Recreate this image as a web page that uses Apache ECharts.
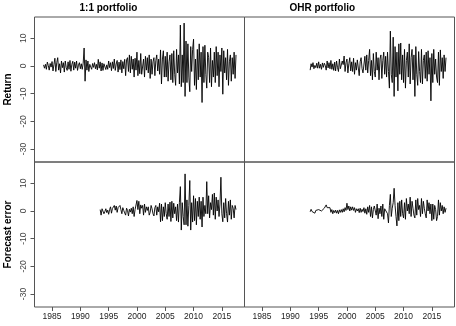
<!DOCTYPE html>
<html>
<head>
<meta charset="utf-8">
<script src="https://cdn.jsdelivr.net/npm/echarts@6/dist/echarts.min.js"></script>
<style>
  html, body { margin: 0; padding: 0; background: #fff; }
  #chart { width: 456px; height: 326px; }
</style>
</head>
<body>
<div id="chart"></div>
<script>
// bimonthly readings (6 per year), first value at the given start year
var step = 1 / 6;

var ret11Start = 1983.5;
var ret11 = [
  0.4, -0.8, 0.6,
  -1.2, 1.4, 0.2, -1.5, 0.9, -0.4,
  1.6, -1.8, 0.5, 2.8, -2, 1.2,
  3, -1.5, 0.8, -2.5, 1.8, -0.6,
  1.2, -2.2, 1.8, -0.5, -1.6, 1.5,
  -1.2, 2, -1.9, 0.6, 1.7, -1.5,
  1.4, -0.8, 1.8, -1.6, 0.3, 1.2,
  -1, 0.8, -1.2, 1, 6.5, -5.5,
  2.2, -1.5, 1.8, -2, 0.6, 1.3,
  -1.2, 0.9, -0.5, 1.2, -1, 0.6,
  -1.4, 2.4, -0.8, 1.5, -1.8, 1.1,
  -1.6, 0.8, 1.5, -1.3, 0.4, -1.2,
  1.8, -0.6, 1.2, -1.7, 1.5, -0.9,
  2.5, -1.6, 0.7, 2, -2.2, 1.4,
  -1.3, 2.2, -2.5, 1.6, -1, 2.4,
  -3.5, 2.2, 3, -2, 4, -2.5,
  3.5, -1.2, 2.5, -4, 2.8, -1.5,
  5, -3.5, 2, -2.8, 4.5, -3,
  -3, 2.5, -4, 3.5, -1.5, 3,
  -2.5, 4, -4.5, 2.5, -3, 1.5,
  3, -3.5, 2, 4, -1.8, 2.5,
  -3, 5.8, -6.5, 2.5, 5.5, -4,
  3.5, -4, 5, -5.5, 1.5, 4,
  -5, 4.5, -6, 5.5, -3, -7,
  6, -2.5, 4, -6.5, 14.8, -7.5,
  4, -6, 15.5, -11, 9, -6,
  8, -4, -9.3, 7, -2, 6,
  9.7, -7, 2.5, -8.5, 6, -5,
  8, -4, 5, -13.2, 7, -6,
  7.5, -3, -8, 5, 3, -6,
  6.5, -7.5, 2, -4, 5, -6,
  7, -3.5, 5, -7.5, 4, -2,
  6.5, -10.2, 5.5, -2.5, 3, -5,
  6, -7, 1.5, 4, -5.5, 3,
  -3, 5, -4.5, 4
];

var retOhrStart = 1993.5;
var retOhr = [
  -1.5, 0.8, -0.4,
  1.2, -1, 0.2, -0.6, 1, -0.8,
  1.5, -0.8, 0.6, -1.2, 1.1, -0.5,
  1, 0.2, -1.5, 1.8, -0.7, 1.2,
  -1, 2, -1.2, 0.8, -1.6, 1.4,
  -1.8, 1.8, -0.6, -2, 2.5, -1,
  -1.5, 1.8, 0.5, 3.6, -2, 1.2,
  2.5, -2.5, 0.8, 3, -1.8, 1.5,
  -2, 2.8, -3, 1.2, -1.5, 2.2,
  2.5, -3.5, 1.5, 3, -1, -2.5,
  -3, 3.5, -1.5, 4, -2.5, 2,
  6, -3.5, 2, -5, 4.5, -2,
  -4, 5, -1.5, 3, -5, 2.5,
  4, -4.5, 2, 5, -3, 3.5,
  -4, 5, -2, -8, 12.6, -3,
  -6, 10.4, -11, 7, -4, 5,
  -9, 8, -3, 8.3, -5, 4,
  -6, 6, -8, 2, 5, -4,
  8, -6.5, 3, 6, -5, 4,
  -11, 7, -3, -7, 5.2, -2,
  -6, 6, -6.5, 2, 4, -4.5,
  5, -5.5, 5.5, -3, 3, -12.6,
  4.5, -6, 6, -3, 2.5, -4,
  -6, 5, -7, 5.8, -2, 3,
  -4.5, 4, -2, 3
];

var fe11Start = 1993.5;
var fe11 = [
  0.5, -1.5, 0.8,
  1.2, -1, -0.2, 0.8, -0.6, 0.3,
  -1.2, 0.5, 1.5, -0.8, 0.9, 0.2,
  2, 0.3, 1.8, -0.5, 1.2, 0.6,
  2, 0.5, -1, 1.2, 0.2, -0.7,
  -1.5, 1, 0.2, -1.8, 0.6, -0.4,
  1, -1, 1.5, -2, 0.5, 1.2,
  3.8, 0.5, 3.5, -1, 2.2, 1,
  2, -1.5, 2.5, -0.5, 1.5, 0.2,
  1.5, -1.5, -0.5, 2, 0.8, -1,
  -1.8, 1.2, 2, -1.5, 1.5, -0.3,
  2.8, -3.9, 2.5, -3.5, 1.5, -2,
  3, -1, -3, 2.5, -2, 3.2,
  -3.8, 3.5, -2.5, 2.8, -1, 1.5,
  -3.5, 2.5, -4, 3, 8.8, -6.9,
  3, -2, -5, 13.4, -5, 4,
  -5.5, 2, 11, -6.9, 3, -4,
  5.5, -3.5, 4.5, -5, 3.5, -2,
  5, -3, 3.5, -5.8, 5, -2,
  2, -1, 10.6, -1, 5.5, -2.5,
  3, 0.5, 6, -1.5, 6.5, -3,
  5, 0, 4, -2, 2.5, 12.2,
  -1, -3.9, 3, -2.5, 4.5, -1,
  -4, 3.5, -1.5, 4, -3, 2,
  1, -2.5, 2, 0.5
];

var feOhrStart = 1993.5;
var feOhr = [
  -0.3, 0.6, -0.2,
  -0.5, 0.3, -0.8, 0.2, 0.6, -0.3,
  0.5, -0.2, 0.8, 0, 0.4, -0.4,
  1, 0.3, 2.2, 1.2, 0.5, 1,
  1.2, -0.5, 0.5, -1, 0.2, -0.6,
  0.3, -0.8, 0.2, -1, 0.4, -0.5,
  0.5, -0.5, 0.8, -0.3, 1.2, 0.2,
  2.8, 0.5, 1.8, 0, 1.5, 0.3,
  1.5, 0.2, 1.2, -0.5, 0.8, 0,
  0.8, -0.6, 1, -0.5, 0.6, -0.2,
  1.2, -0.8, 0.8, -1.2, 1.5, -0.5,
  2, -2, 1.5, -2.5, 0.5, 1.8,
  2.2, -1.5, 2.5, -2.8, 1, -1,
  1.8, -2, 2.5, -3, 0.8, 1.5,
  1.5, -1, -4.3, 2, 6, -2,
  1, 3, 8.2, 2, -2, -5.4,
  3, -3.5, 3.5, -2, 4, -1,
  -2.5, 3, -3, 4.5, 0, 2.5,
  -1, 5, -2, 3.5, 1, -1.5,
  -2.5, 4, -1.5, 4.5, 0.5, 2,
  -2, 4.5, -1, 3.5, 1, -1,
  -2.5, 4, 0, 3, -1, 2.5,
  -3.5, 2.5, -3, 2, 0.5, -3.5,
  -2, 4, -1.5, 3, 0, 2,
  -1, 1.5, -0.5, 1
];

var xTicks = [1985, 1990, 1995, 2000, 2005, 2010, 2015];
var yTicks = [-30, -20, -10, 0, 10];
var panelTitles = ['1:1 portfolio', 'OHR portfolio'];
var rowNames = ['Return', 'Forecast error'];

function pairs(start, vals) {
  var out = [];
  for (var i = 0; i < vals.length; i++) {
    out.push([start + i * step, vals[i]]);
  }
  return out;
}

var font = 'Liberation Sans, Arial, sans-serif';
var L = 34.5, T = 17, W = 210, H = 145;

var grids = [], xAxes = [], yAxes = [], series = [];
var data = [
  pairs(ret11Start, ret11), pairs(retOhrStart, retOhr),
  pairs(fe11Start, fe11), pairs(feOhrStart, feOhr)
];

for (var i = 0; i < 4; i++) {
  var col = i % 2, row = Math.floor(i / 2);
  grids.push({
    left: L + col * W, top: T + row * H, width: W, height: H,
    show: true, borderColor: '#555', borderWidth: 1, backgroundColor: 'transparent'
  });
  xAxes.push({
    gridIndex: i, type: 'value', min: 1981.9, max: 2019.0,
    axisLine: { show: false, onZero: false },
    splitLine: { show: false },
    axisTick: { show: row == 1, length: 4, customValues: xTicks, lineStyle: { color: '#555' } },
    axisLabel: {
      show: row == 1, customValues: xTicks, fontSize: 8.5, color: '#222', fontFamily: font, margin: 5,
      formatter: function (v) { return String(v); }
    }
  });
  yAxes.push({
    gridIndex: i, type: 'value', min: -34.7, max: 17.7,
    axisLine: { show: false, onZero: false },
    splitLine: { show: false },
    axisTick: { show: col == 0, length: 4, customValues: yTicks, lineStyle: { color: '#555' } },
    axisLabel: { show: col == 0, customValues: yTicks, fontSize: 8.5, color: '#444', fontFamily: font, rotate: 90, margin: 6 }
  });
  series.push({
    type: 'line', xAxisIndex: i, yAxisIndex: i,
    data: data[i], showSymbol: false, animation: false,
    lineStyle: { color: '#000', width: 0.9 }
  });
}

var graphics = [];
for (var c = 0; c < 2; c++) {
  graphics.push({
    type: 'text', left: L + c * W + W / 2 - 60, top: 3,
    style: { text: panelTitles[c], font: 'bold 10px ' + font, fill: '#000', width: 120, align: 'center' }
  });
}
for (var r = 0; r < 2; r++) {
  graphics.push({
    type: 'text', x: 8, y: T + r * H + H / 2, rotation: Math.PI / 2,
    style: { text: rowNames[r], font: 'bold 10px ' + font, fill: '#000', align: 'center', verticalAlign: 'middle' }
  });
}

var chart = echarts.init(document.getElementById('chart'), null, { renderer: 'canvas' });
chart.setOption({
  animation: false,
  backgroundColor: '#fff',
  grid: grids,
  xAxis: xAxes,
  yAxis: yAxes,
  series: series,
  graphic: graphics
});
</script>
</body>
</html>
